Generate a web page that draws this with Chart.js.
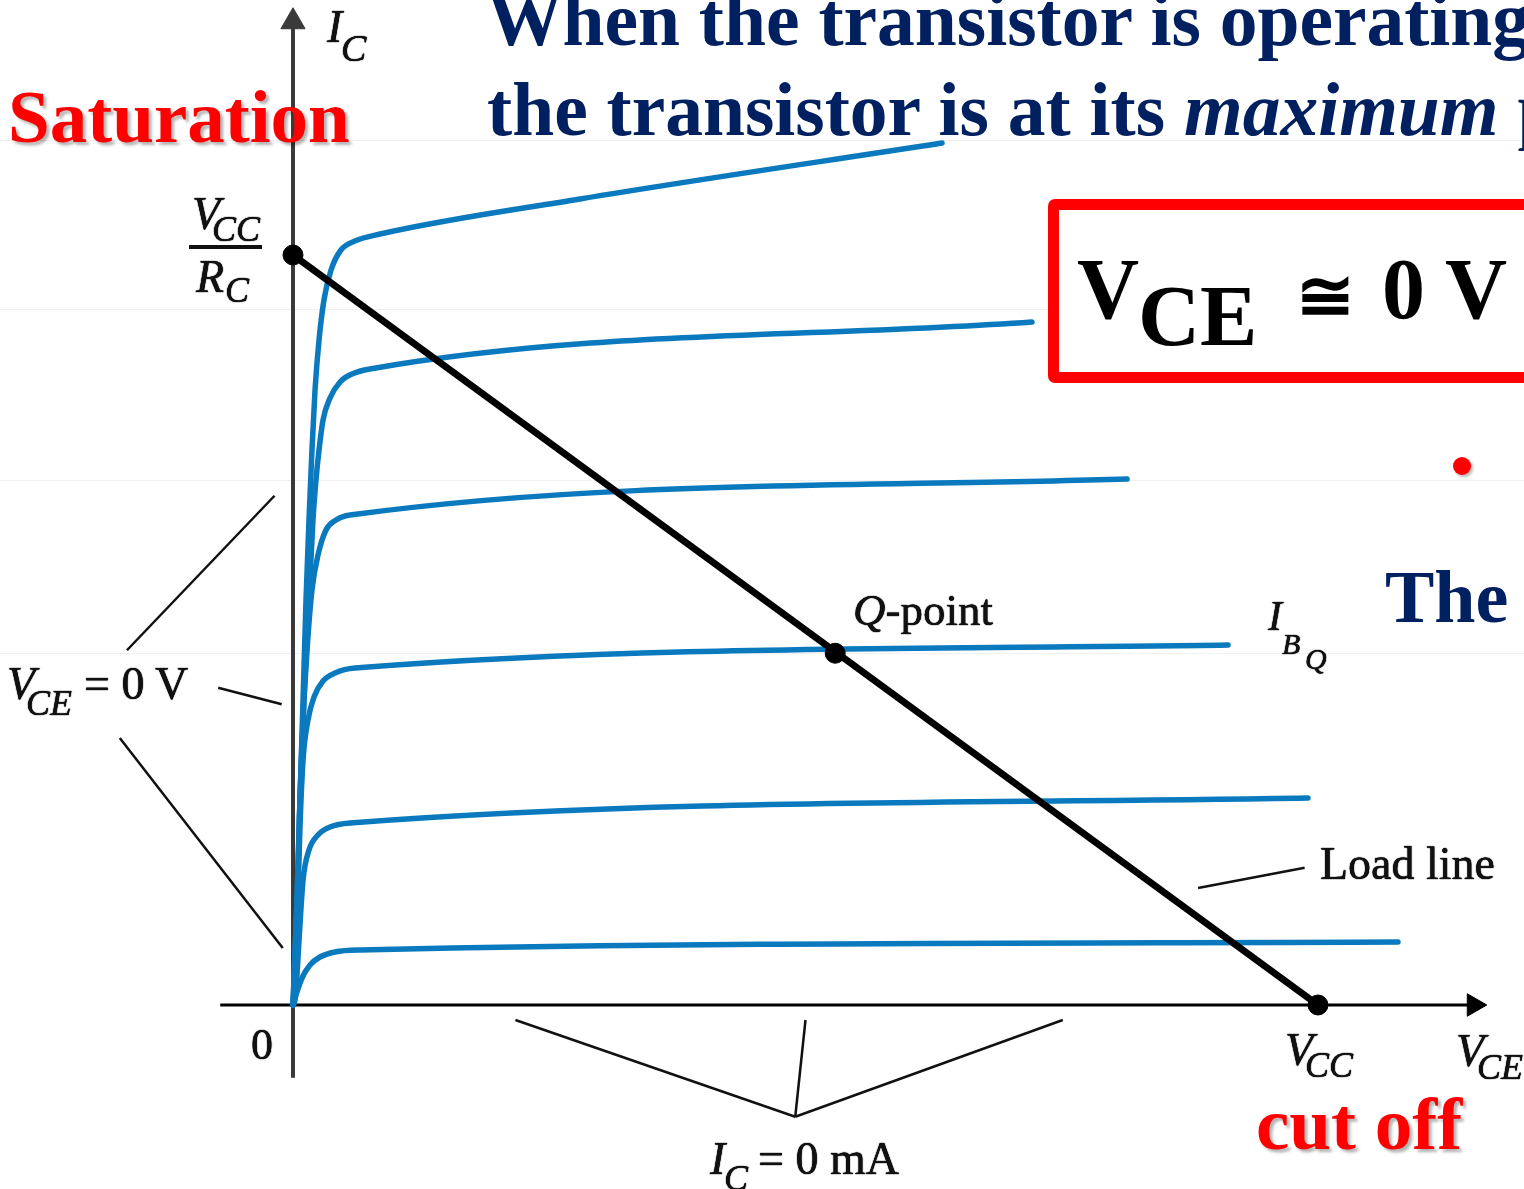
<!DOCTYPE html>
<html>
<head>
<meta charset="utf-8">
<script src="https://cdn.jsdelivr.net/npm/chart.js@4.4.1/dist/chart.umd.min.js"></script>
<style>
  html, body { margin: 0; padding: 0; background: #fff; overflow: hidden; }
  #slide { position: relative; width: 1524px; height: 1189px; overflow: hidden; }
  #chart { position: absolute; left: 0; top: 0; }
  .t { position: absolute; white-space: nowrap; line-height: 1;
       font-family: "Liberation Serif", "Times New Roman", serif; }
  .navy { color: #002060; font-weight: bold; }
  .red  { color: #ff0000; font-weight: bold; text-shadow: 3px 3px 3px rgba(0,0,0,0.3); }
  .blk  { color: #000; font-weight: bold; }
  .dia  { color: #111; text-shadow: 0 0 1px #000, 0 0 1px #000; }
  .sym  { font-family: "DejaVu Serif", serif; color: #000; font-weight: bold; }
  #box { position: absolute; left: 1048px; top: 199px; width: 600px; height: 162px;
         border: 11px solid #ff0000; border-radius: 7px; background: #fff; }
  #bullet { position: absolute; left: 1453px; top: 457px; width: 18px; height: 18px;
            border-radius: 50%; background: #ff0000; box-shadow: 2px 2px 3px rgba(0,0,0,0.3); }
  .bar { position: absolute; background: #111; }
</style>
</head>
<body>
<div id="slide">
  <canvas id="chart" width="1524" height="1189" style="width:1524px;height:1189px"></canvas>
  <div id="box"></div>
  <div id="bullet"></div>
  <div class="bar" style="left:189px; top:245px; width:73px; height:4px"></div>
</div>
<script>
// Einheiten: V_CE in Volt (V_CC = 10 V), I_C in mA (V_CC/R_C = 10 mA)
const X_MIN = -2.8585, X_MAX = 12.0098;
const Y_MIN = -2.4533, Y_MAX = 13.4;

// Kennlinien I_C(V_CE), von unten nach oben
const IB1_VCE = [0, 0.029, 0.088, 0.166, 0.263, 0.410, 0.654, 10.780];
const IB1_IC  = [0, 0.133, 0.360, 0.533, 0.640, 0.707, 0.733, 0.840];

const IB2_VCE = [0, 0.020, 0.039, 0.059, 0.098, 0.156, 0.244, 0.361, 0.556, 9.902];
const IB2_IC  = [0, 0.067, 0.400, 0.867, 1.667, 2.067, 2.267, 2.373, 2.427, 2.760];

const IB3_VCE = [0, 0.029, 0.049, 0.068, 0.098, 0.146, 0.205, 0.293, 0.410, 0.605, 9.122];
const IB3_IC  = [0, 0.600, 1.493, 2.373, 3.267, 3.800, 4.107, 4.320, 4.427, 4.493, 4.800];

const IB4_VCE = [0, 0.029, 0.049, 0.068, 0.098, 0.137, 0.185, 0.244, 0.322, 0.420, 0.556, 8.137];
const IB4_IC  = [0, 0.733, 1.667, 2.733, 3.800, 4.733, 5.533, 6.000, 6.333, 6.467, 6.533, 7.013];

const IB5_VCE = [0, 0.039, 0.068, 0.107, 0.156, 0.195, 0.224, 0.254, 0.293, 0.361, 0.459, 0.576, 0.751, 7.210];
const IB5_IC  = [0, 1.400, 2.733, 4.067, 5.400, 6.467, 7.000, 7.400, 7.800, 8.093, 8.307, 8.413, 8.480, 9.107];

const IB6_VCE = [0, 0.039, 0.068, 0.098, 0.127, 0.156, 0.185, 0.215, 0.254, 0.302, 0.371, 0.468, 0.605, 0.849, 2.800, 6.332];
const IB6_IC  = [0, 1.400, 2.733, 4.067, 5.400, 6.467, 7.400, 8.200, 8.867, 9.400, 9.800, 10.067, 10.187, 10.280, 10.747, 11.493];

// Arbeitsgerade und markierte Punkte (Sättigung, Q-Punkt, Sperrbereich)
const LOAD_VCE  = [0, 10];
const LOAD_IC   = [10, 0];
const POINT_VCE = [0, 5.29, 10];
const POINT_IC  = [10, 4.69, 0];

// Achsen mit Pfeilspitze am Ende
const AXIS_Y_VCE = [0, 0];
const AXIS_Y_IC  = [-0.97, 13.11];
const AXIS_X_VCE = [-0.71, 11.52];
const AXIS_X_IC  = [0, 0];

// Hinweislinien [x1, y1, x2, y2]
const VCE0_LEADERS = [[-1.62, 4.73, -0.18, 6.79], [-0.73, 4.23, -0.11, 4.01], [-1.69, 3.56, -0.10, 0.76]];
const IC0_LEADERS  = [[2.17, -0.20, 4.90, -1.49], [5.00, -0.20, 4.90, -1.49], [7.51, -0.20, 4.90, -1.49]];
const LOAD_LEADER  = [[8.83, 1.56, 9.87, 1.83]];

// blasse Hilfslinien im Hintergrund der Folie
const GUIDE_IC = [4.69, 6.99, 9.27, 11.53];

const BLUE = '#0b79bd';

function zip(xs, ys) {
  return xs.map((x, i) => ({ x, y: ys[i] }));
}

function curve(xs, ys) {
  return {
    data: zip(xs, ys),
    showLine: true,
    borderColor: BLUE,
    borderWidth: 5.5,
    pointRadius: 0,
    cubicInterpolationMode: 'monotone',
    borderCapStyle: 'round',
  };
}

function segment(s, width, color) {
  return {
    data: [{ x: s[0], y: s[1] }, { x: s[2], y: s[3] }],
    showLine: true,
    borderColor: color || '#111',
    borderWidth: width || 2.5,
    pointRadius: 0,
  };
}

function arrowAxis(xs, ys, rot, color, width, size) {
  return {
    data: zip(xs, ys),
    showLine: true,
    borderColor: color,
    borderWidth: width,
    pointStyle: 'triangle',
    pointRadius: [0, size],
    rotation: rot,
    pointBackgroundColor: color,
    pointBorderColor: color,
    pointBorderWidth: 1,
  };
}

const datasets = [
  // erster Datensatz liegt oben
  {
    data: zip(POINT_VCE, POINT_IC),
    showLine: false,
    pointRadius: 10,
    pointBackgroundColor: '#000',
    pointBorderColor: '#000',
  },
  {
    data: zip(LOAD_VCE, LOAD_IC),
    showLine: true,
    borderColor: '#000',
    borderWidth: 7,
    pointRadius: 0,
  },
  curve(IB1_VCE, IB1_IC),
  curve(IB2_VCE, IB2_IC),
  curve(IB3_VCE, IB3_IC),
  curve(IB4_VCE, IB4_IC),
  curve(IB5_VCE, IB5_IC),
  curve(IB6_VCE, IB6_IC),
  arrowAxis(AXIS_Y_VCE, AXIS_Y_IC, 0, '#3a3a3a', 4, 14),
  arrowAxis(AXIS_X_VCE, AXIS_X_IC, 90, '#000', 3, 13),
  ...VCE0_LEADERS.map(s => segment(s)),
  ...IC0_LEADERS.map(s => segment(s)),
  ...LOAD_LEADER.map(s => segment(s)),
];

new Chart(document.getElementById('chart'), {
  type: 'scatter',
  data: { datasets },
  options: {
    responsive: false,
    animation: false,
    devicePixelRatio: 1,
    layout: { padding: 0, autoPadding: false },
    plugins: { legend: { display: false }, tooltip: { enabled: false } },
    scales: {
      x: { type: 'linear', min: X_MIN, max: X_MAX, display: false },
      y: {
        type: 'linear', min: Y_MIN, max: Y_MAX,
        afterBuildTicks: s => { s.ticks = GUIDE_IC.map(v => ({ value: v })); },
        ticks: { display: false },
        border: { display: false },
        grid: { color: '#f1f1f1', lineWidth: 1, drawTicks: false },
      },
    },
  },
});

// ---- Beschriftungen (Grundlinie in px) ----
const slide = document.getElementById('slide');
function put(html, x, base, size, cls) {
  const d = document.createElement('div');
  d.className = 't ' + cls;
  d.style.left = x + 'px';
  d.style.top = (base - 0.8375 * size) + 'px';
  d.style.fontSize = size + 'px';
  d.innerHTML = html;
  slide.appendChild(d);
}

put('When the transistor is operating in saturation, the current through', 487, 45, 75.5, 'navy');
put('the transistor is at its <i>maximum</i> possible value.', 487, 135, 75.5, 'navy');
put('Saturation', 8, 142, 75, 'red');
put('cut off', 1256, 1149, 75, 'red');
put('The', 1385, 622, 74, 'navy');

put('V', 1077, 318, 86, 'blk');
put('CE', 1138, 345, 86, 'blk');
put('≅', 1296, 320, 70, 'sym');
put('0 V', 1382, 318, 86, 'blk');

put('<i>I</i>', 327, 43, 46, 'dia');
put('<i>C</i>', 341, 61, 38, 'dia');
put('<i>V</i>', 192, 230, 46, 'dia');
put('<i>CC</i>', 212, 241, 36, 'dia');
put('<i>R</i>', 196, 293, 46, 'dia');
put('<i>C</i>', 225, 302, 36, 'dia');

put('<i>V</i>', 7, 700, 46, 'dia');
put('<i>CE</i>', 26, 715, 36, 'dia');
put('= 0 V', 84, 700, 46, 'dia');

put('<i>Q</i>-point', 853, 626, 45, 'dia');
put('<i>I</i>', 1268, 630, 42, 'dia');
put('<i>B</i>', 1282, 654, 30, 'dia');
put('<i>Q</i>', 1305, 669, 30, 'dia');
put('Load line', 1320, 880, 46, 'dia');

put('0', 251, 1060, 44, 'dia');
put('<i>V</i>', 1285, 1066, 46, 'dia');
put('<i>CC</i>', 1305, 1077, 36, 'dia');
put('<i>V</i>', 1456, 1067, 46, 'dia');
put('<i>CE</i>', 1477, 1079, 36, 'dia');
put('<i>I</i>', 710, 1175, 46, 'dia');
put('<i>C</i>', 724, 1190, 36, 'dia');
put('= 0 mA', 758, 1175, 46, 'dia');
</script>
</body>
</html>
